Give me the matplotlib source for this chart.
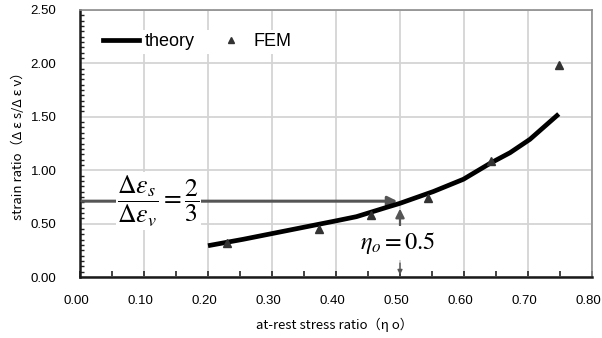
import matplotlib
matplotlib.use("Agg")
import matplotlib.pyplot as plt
import matplotlib.transforms as mtransforms
from matplotlib.lines import Line2D
from matplotlib.ticker import MultipleLocator, FormatStrFormatter

plt.rcParams['font.family'] = ['Liberation Sans', 'DejaVu Sans']
plt.rcParams['mathtext.fontset'] = 'stix'

# theory curve (eta_o, strain ratio)
theory_x = [0.200, 0.255, 0.302, 0.349, 0.401, 0.432, 0.479, 0.500,
            0.552, 0.599, 0.641, 0.672, 0.703, 0.748]
theory_y = [0.293, 0.353, 0.409, 0.465, 0.527, 0.565, 0.652, 0.690,
            0.800, 0.915, 1.065, 1.164, 1.289, 1.526]

# FEM results
fem_x = [0.230, 0.373, 0.455, 0.544, 0.642, 0.748]
fem_y = [0.32, 0.45, 0.58, 0.74, 1.09, 1.985]

x_ticks = [0.0, 0.1, 0.2, 0.3, 0.4, 0.5, 0.6, 0.7, 0.8]
y_ticks = [0.0, 0.5, 1.0, 1.5, 2.0, 2.5]

target_ratio = 0.71
eta_target = 0.5
fem_at_target = 0.64

W, H = 602, 338
fig = plt.figure(figsize=(W / 100, H / 100), dpi=100)
ax = fig.add_axes([80 / W, (H - 277) / H, 512 / W, 267 / H])

ax.set_xlim(0, 0.8)
ax.set_ylim(0, 2.5)
ax.set_xticks(x_ticks)
ax.set_yticks(y_ticks)
ax.xaxis.set_major_formatter(FormatStrFormatter('%.2f'))
ax.yaxis.set_major_formatter(FormatStrFormatter('%.2f'))
ax.xaxis.set_minor_locator(MultipleLocator(0.05))
ax.yaxis.set_minor_locator(MultipleLocator(0.05))
ax.tick_params(axis='x', which='both', direction='in', length=4, width=1.2,
               color='#222222', labelsize=9.5, pad=13)
ax.tick_params(axis='y', which='both', direction='in', length=3, width=1.0,
               color='#222222', labelsize=9.5, pad=17)
ax.tick_params(axis='y', which='major', length=0)
ax.grid(True, which='major', color='#d4d4d4', lw=1.3)
ax.set_axisbelow(True)

# the x tick labels sit a little left of their ticks in the original
shift = mtransforms.ScaledTranslation(-4 / 100, 0, fig.dpi_scale_trans)
for lab in ax.get_xticklabels():
    lab.set_transform(lab.get_transform() + shift)

for s in ['left', 'bottom']:
    ax.spines[s].set_color('#1a1a1a')
    ax.spines[s].set_linewidth(1.8)
for s in ['top', 'right']:
    ax.spines[s].set_color('#8c8c8c')
    ax.spines[s].set_linewidth(1.2)

ax.plot(theory_x, theory_y, color='black', lw=3.4, zorder=4,
        solid_capstyle='butt')
ax.plot(fem_x, fem_y, ls='none', marker='^', ms=6, color='#333333',
        zorder=5)

# horizontal arrow at the target strain ratio
ax.annotate('', xy=(eta_target - 0.004, target_ratio), xytext=(0.003, target_ratio),
            arrowprops=dict(arrowstyle='-|>', color='#555555', lw=2.2,
                            mutation_scale=14, shrinkA=0, shrinkB=0), zorder=3)
ax.text(0.122, target_ratio,
        r'$\dfrac{\Delta\varepsilon_s}{\Delta\varepsilon_v}=\dfrac{2}{3}$',
        fontsize=18.5, ha='center', va='center', zorder=6,
        bbox=dict(facecolor='white', edgecolor='none', pad=1.0))

# vertical arrows at eta_o = 0.5
ax.annotate('', xy=(eta_target, fem_at_target), xytext=(eta_target, 0.48),
            arrowprops=dict(arrowstyle='-|>', color='#555555', lw=1.6,
                            mutation_scale=13, shrinkA=0, shrinkB=0), zorder=3)
ax.annotate('', xy=(eta_target, 0.02), xytext=(eta_target, 0.13),
            arrowprops=dict(arrowstyle='-|>', color='#555555', lw=1.0,
                            mutation_scale=7, shrinkA=0, shrinkB=0), zorder=3)
ax.text(0.497, 0.32, r'$\eta_o = 0.5$', fontsize=17.5, ha='center', va='center',
        zorder=6, bbox=dict(facecolor='white', edgecolor='none', pad=3.0))

handles = [Line2D([], [], color='black', lw=3.4),
           Line2D([], [], ls='none', marker='^', ms=5, color='#333333')]
leg = ax.legend(handles, ['theory', 'FEM'], loc='upper left', ncol=2,
                bbox_to_anchor=(0.02, 0.96), frameon=True, fancybox=False,
                edgecolor='none', framealpha=1.0, fontsize=13,
                handlelength=2.0, handletextpad=0.3, columnspacing=1.0,
                borderpad=0.2)
leg.set_zorder(7)

jp = ['Noto Sans CJK JP', 'DejaVu Sans']
fig.text(334 / W, 1 - 325 / H, 'at-rest stress ratio（η o）', family=jp,
         fontsize=9.5, ha='center', va='center')
fig.text(18 / W, 1 - 143 / H, 'strain ratio（Δ ε s/Δ ε v）', family=jp,
         fontsize=9.5, ha='center', va='center', rotation=90)

fig.savefig('out.png', dpi=100)
